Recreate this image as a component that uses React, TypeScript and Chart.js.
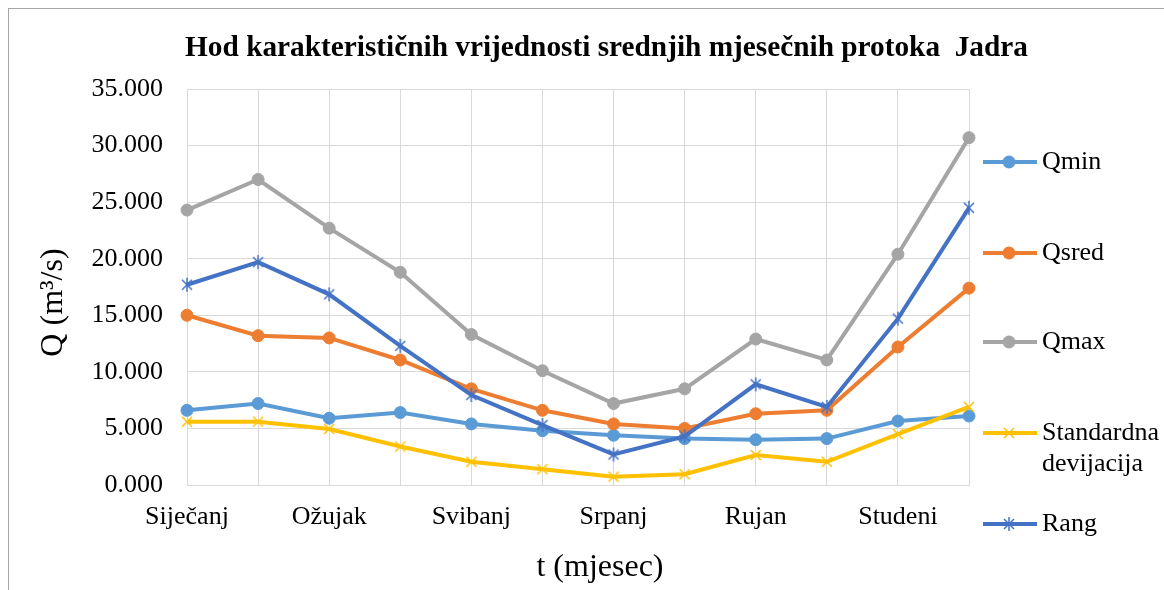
import React, { useEffect, useRef } from 'react';
import { Chart, registerables } from 'chart.js';

Chart.register(...registerables);

// ---- data ----
const months = ['Siječanj', 'Veljača', 'Ožujak', 'Travanj', 'Svibanj', 'Lipanj', 'Srpanj', 'Kolovoz', 'Rujan', 'Listopad', 'Studeni', 'Prosinac'];
const qMin = [6.6, 7.2, 5.9, 6.4, 5.4, 4.8, 4.4, 4.1, 4.0, 4.1, 5.65, 6.1];
const qSred = [15.0, 13.2, 13.0, 11.05, 8.5, 6.6, 5.4, 5.0, 6.3, 6.6, 12.2, 17.4];
const qMax = [24.3, 27.0, 22.7, 18.8, 13.3, 10.1, 7.2, 8.5, 12.9, 11.05, 20.4, 30.7];
const stdDev = [5.6, 5.6, 4.95, 3.4, 2.05, 1.4, 0.73, 0.95, 2.65, 2.05, 4.5, 6.9];
const rang = [17.7, 19.7, 16.85, 12.3, 7.95, 5.3, 2.7, 4.3, 8.9, 6.9, 14.7, 24.5];
const yMin = 0;
const yMax = 35;
const yStep = 5;

// ---- text ----
const chartTitle = 'Hod karakterističnih vrijednosti srednjih mjesečnih protoka  Jadra';
const xTitle = 't (mjesec)';
const yTitle = 'Q (m³/s)';
const seriesNames = [['Qmin'], ['Qsred'], ['Qmax'], ['Standardna', 'devijacija'], ['Rang']];

// ---- styles ----
const FONT = "'Liberation Serif', 'Times New Roman', serif";
const colors = ['#5B9BD5', '#ED7D31', '#A5A5A5', '#FFC000', '#4472C4'];
const markers = ['circle', 'circle', 'circle', 'x', 'asterisk'];
const seriesValues = [qMin, qSred, qMax, stdDev, rang];

const W = 1155;
const H = 581;

function drawMarker(ctx: CanvasRenderingContext2D, style: string, x: number, y: number, color: string) {
  ctx.save();
  ctx.fillStyle = color;
  ctx.strokeStyle = color;
  if (style === 'circle') {
    ctx.beginPath();
    ctx.arc(x, y, 6.5, 0, Math.PI * 2);
    ctx.fill();
  } else {
    const d = 5;
    ctx.lineWidth = 1.5;
    ctx.beginPath();
    ctx.moveTo(x - d, y - d);
    ctx.lineTo(x + d, y + d);
    ctx.moveTo(x - d, y + d);
    ctx.lineTo(x + d, y - d);
    if (style === 'asterisk') {
      ctx.moveTo(x, y - 7);
      ctx.lineTo(x, y + 7);
    }
    ctx.stroke();
  }
  ctx.restore();
}

function markerImage(style: string, color: string) {
  const c = document.createElement('canvas');
  c.width = 18;
  c.height = 18;
  const g = c.getContext('2d')!;
  drawMarker(g, style, 9, 9, color);
  return c;
}

const overlayPlugin = {
  id: 'overlayText',
  afterDraw(chart: any) {
    const ctx: CanvasRenderingContext2D = chart.ctx;
    ctx.save();
    ctx.fillStyle = '#000';
    // main title
    ctx.font = `bold 29.3px ${FONT}`;
    ctx.textAlign = 'center';
    ctx.textBaseline = 'alphabetic';
    ctx.fillText(chartTitle, 597.5, 47);
    // x axis title
    ctx.font = `32px ${FONT}`;
    ctx.fillText(xTitle, 591, 567);
    // y axis title
    ctx.save();
    ctx.translate(45, 293.5);
    ctx.rotate(-Math.PI / 2);
    ctx.textBaseline = 'middle';
    ctx.fillText(yTitle, 0, 0);
    ctx.restore();
    // legend
    const legendY = [153, 244, 333, 424, 515];
    ctx.font = `26px ${FONT}`;
    ctx.textAlign = 'left';
    ctx.textBaseline = 'middle';
    seriesNames.forEach((lines, i) => {
      const y = legendY[i];
      ctx.strokeStyle = colors[i];
      ctx.lineWidth = 4;
      ctx.beginPath();
      ctx.moveTo(974, y);
      ctx.lineTo(1028, y);
      ctx.stroke();
      drawMarker(ctx, markers[i], 1000, y, colors[i]);
      ctx.fillStyle = '#000';
      lines.forEach((t, k) => ctx.fillText(t, 1033, y + k * 31));
    });
    ctx.restore();
  },
};

export default function App() {
  const ref = useRef<HTMLCanvasElement>(null);

  useEffect(() => {
    if (!ref.current) return;
    const datasets = seriesValues.map((vals, i) => {
      const isCircle = markers[i] === 'circle';
      return {
        label: seriesNames[i].join(' '),
        data: vals,
        borderColor: colors[i],
        backgroundColor: colors[i],
        borderWidth: 4,
        tension: 0,
        pointStyle: isCircle ? 'circle' : markerImage(markers[i], colors[i]),
        pointRadius: 6,
        pointBackgroundColor: colors[i],
        pointBorderColor: colors[i],
        pointBorderWidth: 1,
        order: seriesValues.length - i,
        clip: false as const,
      };
    });

    const chart = new Chart(ref.current, {
      type: 'line',
      data: { labels: months, datasets },
      options: {
        animation: false,
        responsive: false,
        devicePixelRatio: 1,
        layout: { padding: { top: 80, right: 195, left: 0, bottom: 0 } },
        plugins: {
          legend: { display: false },
          title: { display: false },
          tooltip: { enabled: false },
        },
        scales: {
          x: {
            type: 'category',
            offset: false,
            grid: { color: '#d9d9d9', lineWidth: 1, drawTicks: false },
            border: { display: true, color: '#d9d9d9' },
            ticks: {
              autoSkip: false,
              maxRotation: 0,
              minRotation: 0,
              padding: 17,
              color: '#000',
              font: { family: FONT, size: 26 },
              callback: (_v: any, i: number) => (i % 2 === 0 ? months[i] : ''),
            },
            afterFit: (s: any) => {
              s.height = 105;
            },
          },
          y: {
            min: yMin,
            max: yMax,
            grid: { color: '#d9d9d9', lineWidth: 1, drawTicks: false },
            border: { display: true, color: '#d9d9d9' },
            ticks: {
              stepSize: yStep,
              padding: 24,
              color: '#000',
              font: { family: FONT, size: 26 },
              callback: (v: any) => Number(v).toFixed(3),
            },
            afterFit: (s: any) => {
              s.width = 178;
            },
          },
        },
      },
      plugins: [overlayPlugin],
    });
    return () => chart.destroy();
  }, []);

  return (
    <div
      style={{
        position: 'fixed',
        left: 8,
        top: 8,
        width: W + 1,
        height: H + 1,
        boxSizing: 'border-box',
        borderTop: '1px solid #a6a6a6',
        borderLeft: '1px solid #a6a6a6',
        background: '#fff',
      }}
    >
      <canvas ref={ref} width={W} height={H} style={{ display: 'block', width: W, height: H }} />
    </div>
  );
}
